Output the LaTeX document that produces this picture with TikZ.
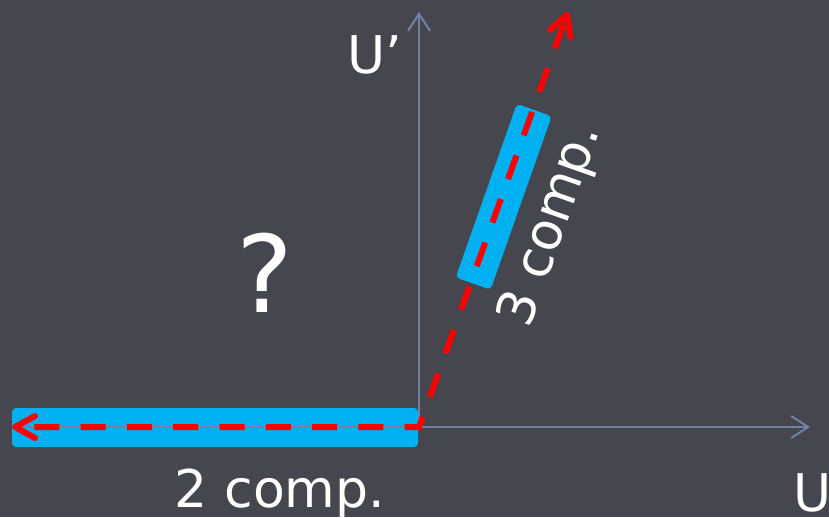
\documentclass[tikz,border=0pt]{standalone}
\usepackage{fontspec}
\setmainfont{DejaVu Sans}
\usetikzlibrary{arrows.meta,positioning}

\definecolor{bgslate}{HTML}{46464F}
\definecolor{axisgrey}{HTML}{7282A6}
\definecolor{barblue}{HTML}{00B0F0}

\tikzset{
  axisline/.style={axisgrey,line width=2pt,-{Straight Barb[length=17pt,width=22pt]}},
  bar/.style={fill=barblue,rounded corners=4pt,inner sep=0pt},
  redpath/.style={red,line width=6pt,dash pattern=on 25pt off 21.3pt,dash phase=30pt,
    {Straight Barb[length=20pt,width=22pt,line cap=round,line join=round]}-{Straight Barb[length=20pt,width=22pt,line cap=round,line join=round]}},
  lbl/.style={white,inner sep=0pt,font=\fontsize{52}{60}\selectfont}
}

\begin{document}
\begin{tikzpicture}[x=1pt,y=-1pt]
  \fill[bgslate] (0,0) rectangle (829,517);
  \clip (0,0) rectangle (829,517);

  \coordinate (O) at (419,427);
  \coordinate (xend) at (810,427);
  \coordinate (xstart) at (12,427);
  \coordinate (yend) at (419,12);
  \coordinate (redtop) at (568,12);

  % the two bars
  \node[bar,minimum width=406pt,minimum height=39pt] (hbar) at (215,427.5) {};
  \node[bar,minimum width=184pt,minimum height=37pt,rotate=70.6] (tbar) at (503.7,196.8) {};

  % axes
  \draw[axisline] (xstart) -- (xend);
  \draw[axisline] (O) -- (yend);

  % path
  \draw[redpath] (xstart) -- (O) -- (redtop);

  % labels
  \node[lbl,anchor=base west] (uprime) at (347,73) {U’};
  \node[lbl,anchor=base west] (ulab) at (793,511) {U};
  \node[lbl,anchor=base] (two) at (280,507) {2 comp.};
  \node[lbl,anchor=base,rotate=70.6] (three) at (564.6,230.4) {3 comp.};
  \node[white,inner sep=0pt,anchor=base,font=\fontsize{107}{120}\selectfont] (quest) at (265,312) {?};
\end{tikzpicture}
\end{document}
